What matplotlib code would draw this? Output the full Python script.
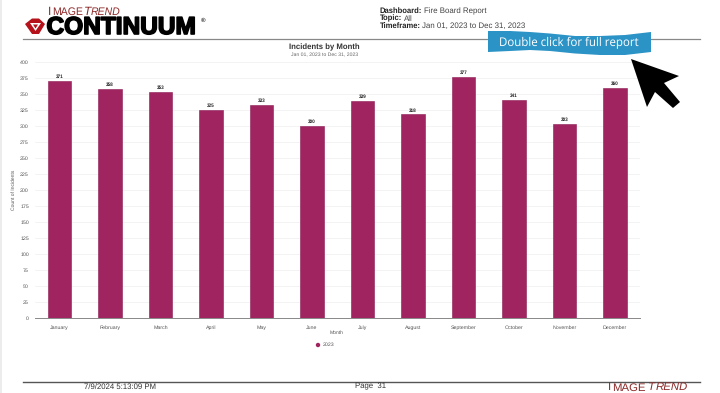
import matplotlib
matplotlib.use('Agg')
import matplotlib.pyplot as plt
import matplotlib.patheffects as pe
from matplotlib.patches import Polygon, Circle

plt.rcParams['font.family'] = ['Liberation Sans', 'DejaVu Sans']
plt.rcParams['text.hinting'] = 'none'

months = ['January', 'February', 'March', 'April', 'May', 'June', 'July',
          'August', 'September', 'October', 'November', 'December']
incidents = [371, 358, 353, 325, 333, 300, 339, 318, 377, 341, 303, 360]
yticks = list(range(0, 401, 25))
bar_color = '#9f2460'
W, H = 720, 393

fig = plt.figure(figsize=(7.2, 3.93), dpi=100, facecolor='white')

# chart axes, placed in pixels
ax = fig.add_axes([34.5 / W, 1 - 318 / H, (640 - 34.5) / W, (318 - 62) / H])
x = range(len(months))
ax.bar(x, incidents, width=0.465, color=bar_color, edgecolor='#8e1a55', linewidth=0.4, zorder=3)
for i, v in zip(x, incidents):
    ax.text(i, v + 3, str(v), ha='center', va='bottom', fontsize=3.3, fontweight='bold', color='#222222')
ax.set_xlim(-0.5, 11.5)
ax.set_ylim(0, 400)
ax.set_yticks(yticks)
ax.set_xticks(list(x))
ax.set_xticklabels(months)
ax.tick_params(axis='both', length=0, labelsize=3.8, labelcolor='#555555')
ax.tick_params(axis='x', pad=5)
ax.tick_params(axis='y', pad=4)
ax.grid(axis='y', color='#eeeeee', linewidth=0.5, zorder=0)
for s in ['top', 'right', 'left']:
    ax.spines[s].set_visible(False)
ax.spines['bottom'].set_color('#888888')
ax.spines['bottom'].set_linewidth(0.7)

# page furniture, in pixel coordinates
pg = fig.add_axes([0, 0, 1, 1], zorder=5)
pg.set_xlim(0, W)
pg.set_ylim(H, 0)
pg.axis('off')

pg.fill_between([0, 2], 0, H, color='#ececec', lw=0)
pg.plot([23, 700], [38.7, 38.7], color='#888888', lw=0.9)
pg.plot([23, 700], [382, 382], color='#555555', lw=1.0)

pg.text(324.5, 47, 'Incidents by Month', ha='center', va='center', fontsize=5.6, fontweight='bold', color='#333333')
pg.text(324.5, 55, 'Jan 01, 2023 to Dec 31, 2023', ha='center', va='center', fontsize=3.7, color='#666666')
pg.text(14, 190, 'Count of Incidents', rotation=90, ha='center', va='center', fontsize=3.6, color='#555555')
pg.text(337, 332.5, 'Month', ha='center', va='center', fontsize=3.6, color='#555555')
pg.add_patch(Circle((318, 345), 2.2, color=bar_color, lw=0))
pg.text(323, 345, '2023', ha='left', va='center', fontsize=3.8, color='#555555')

# header block
rows = [(12.5, 'Dashboard:', 'Fire Board Report', 424),
        (20, 'Topic:', 'All', 404),
        (27.5, 'Timeframe:', 'Jan 01, 2023 to Dec 31, 2023', 422.5)]
for y, head, val, xv in rows:
    pg.text(379.5, y, head, fontsize=5.5, fontweight='bold', va='baseline', color='#222222')
    pg.text(xv, y + 0.7, val, fontsize=5.7, va='baseline', color='#444444')

# footer
pg.text(84, 388.5, '7/9/2024 5:13:09 PM', fontsize=5.6, va='baseline', color='#333333')
pg.text(355, 388.5, 'Page  31', fontsize=5.6, va='baseline', color='#333333')

# logo wordmarks
def wordmark(x0, y, k, big, small):
    for txt, xp, fs, st in [('I', 0, big, 'normal'), ('MAGE', 4, small, 'normal'),
                            ('T', 35.5, big, 'italic'), ('REND', 42.5, small, 'italic')]:
        pg.text(x0 + xp * k, y, txt, fontsize=fs, style=st, va='baseline', color='#8e2a2a')

wordmark(48, 15, 1.0, 8.6, 7.6)
pg.text(46.5, 34, 'CONTINUUM', fontsize=17.6, fontweight='bold', va='baseline', color='black',
        path_effects=[pe.withStroke(linewidth=1.2, foreground='black')])
pg.text(200.5, 20, '®', fontsize=4.5, fontweight='bold', va='center', color='#222222')
wordmark(608, 390.5, 1.12, 8.2, 8.2)

# logo icon
pg.add_patch(Polygon([(25, 24), (32, 18.5), (39, 18.5), (45, 24), (39, 34), (32, 34)], closed=True, fc='#b5121b', lw=0))
pg.add_patch(Polygon([(30, 23), (41, 23), (35.5, 31)], closed=True, fc='white', lw=0))
pg.add_patch(Polygon([(33, 24.5), (38, 24.5), (35.5, 28.5)], closed=True, fc='#b5121b', lw=0))

# banner and cursor
top = [(488, 31), (510, 31), (530, 32), (550, 33.5), (575, 36), (600, 36), (625, 35), (651, 32)]
bot = [(651, 52), (625, 55), (600, 55), (575, 53.5), (550, 51), (530, 50), (510, 51), (488, 52)]
pg.add_patch(Polygon(top + bot, closed=True, fc='#2b93c6', lw=0, zorder=6))
pg.text(569, 42.5, 'Double click for full report', ha='center', va='center', fontsize=8.3,
        color='white', family=['Open Sans', 'DejaVu Sans'], zorder=7)
pg.add_patch(Polygon([(631, 59), (679, 76), (664, 83), (680, 102), (673, 108), (655, 92), (647, 107)],
                     closed=True, fc='black', lw=0, zorder=6))

fig.savefig('out.png', dpi=100)
